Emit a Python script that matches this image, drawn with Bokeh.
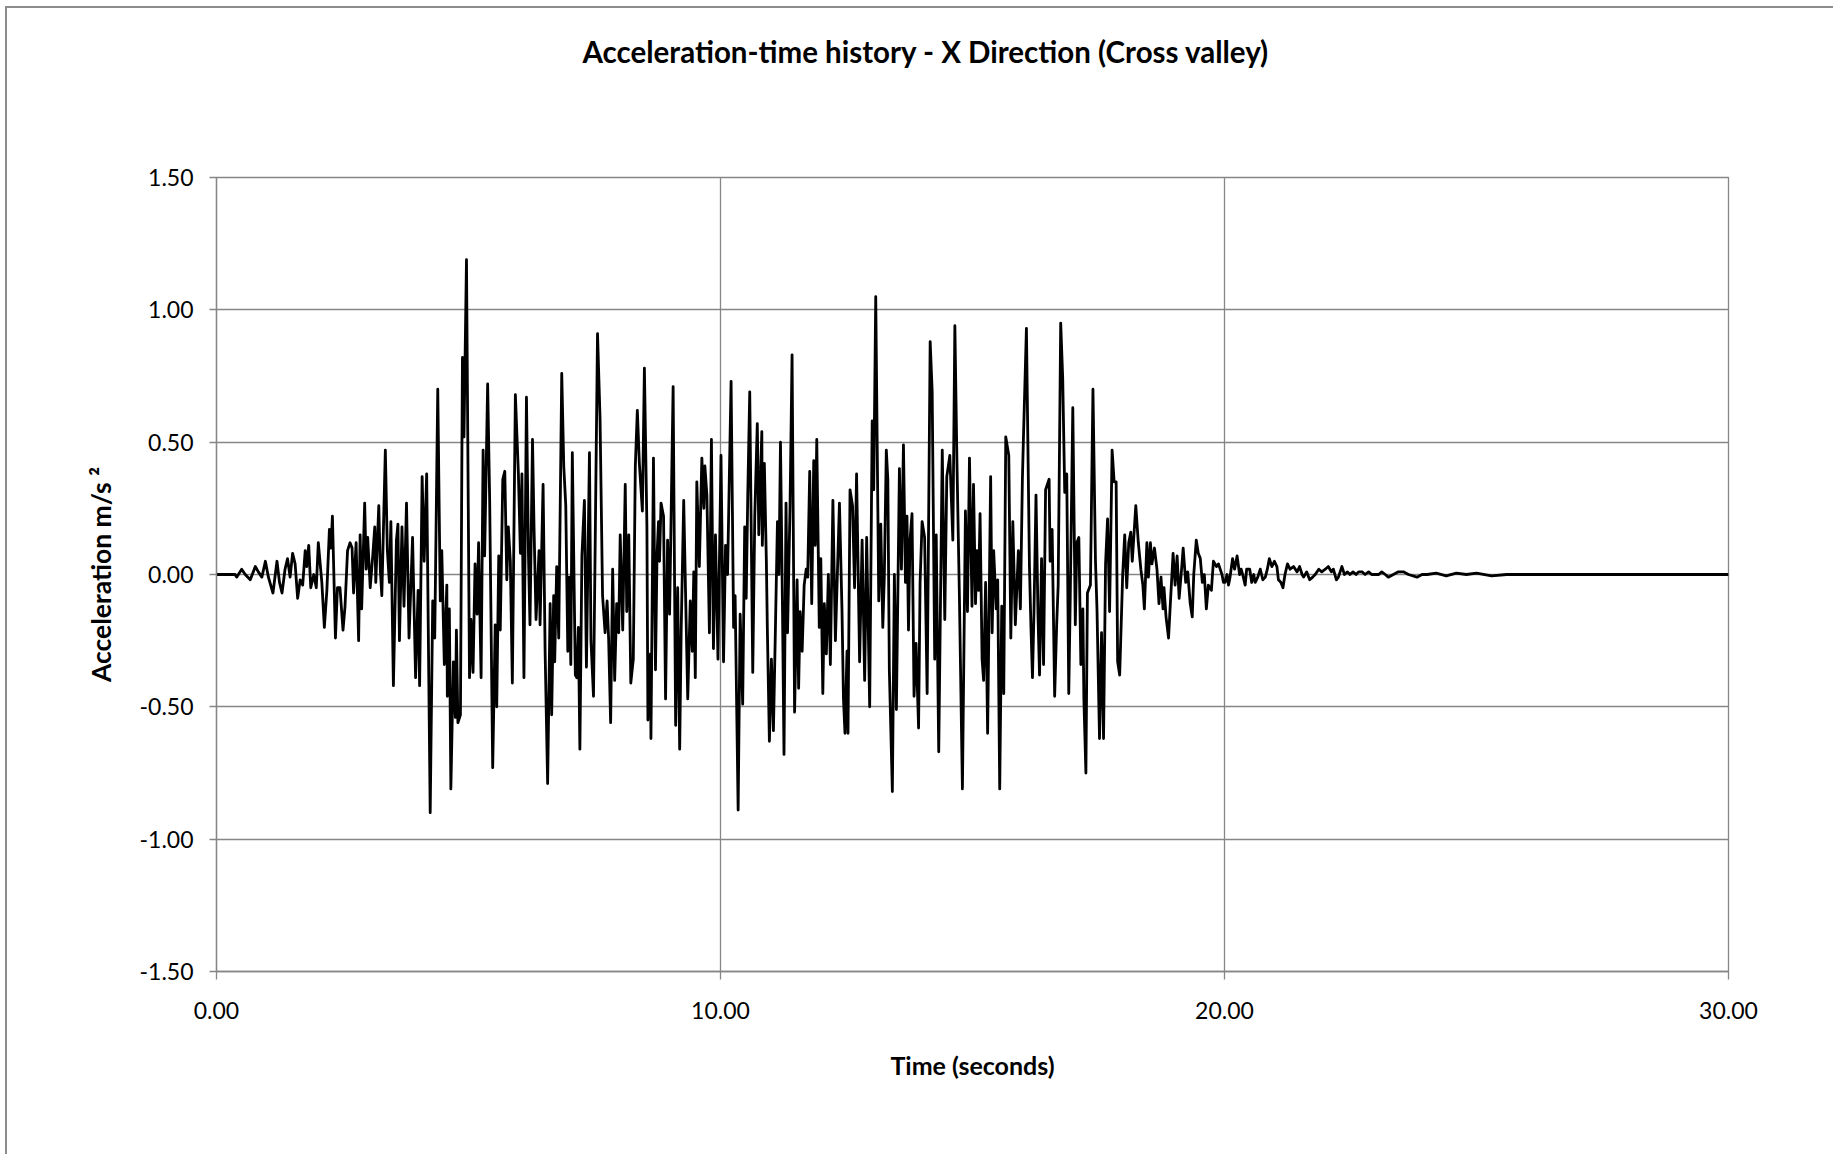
from bokeh.plotting import figure
from bokeh.models import ColumnDataSource, FixedTicker, NumeralTickFormatter, Title, Range1d
from bokeh.embed import file_html
from bokeh.resources import INLINE

# ---- data (time in s, acceleration in m/s²) ----
times = [
    0.00, 0.37, 0.40, 0.50, 0.57, 0.67, 0.77, 0.83, 0.90, 0.97, 1.03, 1.12, 1.20, 1.25, 1.30, 1.36,
    1.41, 1.46, 1.51, 1.56, 1.61, 1.66, 1.71, 1.76, 1.79, 1.83, 1.87, 1.93, 1.98, 2.02, 2.09, 2.14,
    2.19, 2.24, 2.27, 2.30, 2.36, 2.40, 2.45, 2.51, 2.55, 2.60, 2.65, 2.69, 2.72, 2.77, 2.82, 2.85,
    2.88, 2.94,
    2.97, 3.00, 3.05, 3.10, 3.14, 3.16, 3.22, 3.25, 3.28, 3.35, 3.39, 3.43, 3.46, 3.51, 3.57, 3.60,
    3.63, 3.68, 3.72, 3.77, 3.82, 3.89, 3.95, 4.00, 4.03, 4.08, 4.12, 4.17, 4.24, 4.29, 4.33, 4.39,
    4.44, 4.47, 4.52, 4.57, 4.58, 4.62, 4.65, 4.70, 4.74, 4.76, 4.79, 4.84, 4.88, 4.91, 4.96, 5.02,
    5.05, 5.09, 5.13, 5.17, 5.20, 5.25, 5.29, 5.32, 5.38, 5.42, 5.48, 5.53, 5.56, 5.60, 5.63, 5.68,
    5.72, 5.76, 5.79, 5.83, 5.87, 5.93,
    5.99, 6.03, 6.06, 6.10, 6.15, 6.19, 6.22, 6.27, 6.30, 6.34, 6.40, 6.42, 6.48, 6.52, 6.57, 6.62,
    6.65, 6.69, 6.71, 6.75, 6.79, 6.85, 6.89, 6.93, 6.97, 7.00, 7.03, 7.06, 7.12, 7.15, 7.18, 7.21,
    7.25, 7.30, 7.34, 7.40, 7.43, 7.48, 7.56, 7.61, 7.66, 7.71, 7.75, 7.78, 7.82, 7.86, 7.90, 7.94,
    7.98, 8.01, 8.06, 8.11, 8.14, 8.18, 8.22, 8.27, 8.31, 8.35, 8.39, 8.45, 8.49, 8.54, 8.56, 8.61,
    8.62, 8.67, 8.71, 8.74, 8.77, 8.79, 8.82, 8.87, 8.91, 8.95, 8.99,
    9.06, 9.11, 9.15, 9.19, 9.22, 9.27, 9.31, 9.35, 9.40, 9.44, 9.47, 9.50, 9.53, 9.58, 9.63, 9.67,
    9.69, 9.73, 9.78, 9.82, 9.86, 9.90, 9.95, 10.01, 10.06, 10.10, 10.14, 10.21, 10.26, 10.29, 10.35,
    10.39, 10.44, 10.48, 10.51, 10.54, 10.58, 10.64, 10.68, 10.73, 10.76, 10.82, 10.83, 10.87, 10.91,
    10.93, 10.97, 11.01, 11.05, 11.09, 11.13, 11.16, 11.19, 11.23, 11.26, 11.30, 11.33, 11.38, 11.42,
    11.47, 11.52, 11.55, 11.58, 11.62, 11.66, 11.70, 11.73, 11.77, 11.81, 11.85, 11.88, 11.91,
    11.96, 11.99, 12.03, 12.06, 12.10, 12.14, 12.18, 12.23, 12.28, 12.36, 12.41, 12.44, 12.47, 12.51,
    12.53, 12.57, 12.62, 12.66, 12.70, 12.76, 12.81, 12.86, 12.90, 12.96, 13.01, 13.04, 13.08, 13.14,
    13.18, 13.22, 13.25, 13.29, 13.32, 13.35, 13.41, 13.45, 13.49, 13.55, 13.59, 13.63, 13.67, 13.70,
    13.73, 13.76, 13.80, 13.84, 13.88, 13.93, 13.96, 14.00, 14.05, 14.10, 14.16, 14.20, 14.25, 14.28,
    14.33, 14.40, 14.45, 14.49, 14.55, 14.61, 14.65, 14.69, 14.74, 14.80, 14.86, 14.90, 14.94,
    14.99, 15.02, 15.06, 15.09, 15.12, 15.15, 15.19, 15.22, 15.26, 15.30, 15.36, 15.39, 15.42, 15.47,
    15.50, 15.54, 15.58, 15.62, 15.66, 15.72, 15.76, 15.80, 15.85, 15.91, 15.95, 15.99, 16.01, 16.07,
    16.13, 16.16, 16.19, 16.22, 16.26, 16.30, 16.33, 16.37, 16.41, 16.45, 16.52, 16.54, 16.58, 16.63,
    16.67, 16.70, 16.75, 16.79, 16.83, 16.87, 16.91, 16.94, 16.99, 17.04, 17.07, 17.11, 17.15, 17.19,
    17.21, 17.25, 17.28, 17.34, 17.39, 17.44, 17.47, 17.52, 17.56, 17.60, 17.64, 17.68, 17.72, 17.77,
    17.81, 17.85, 17.88, 17.92,
    17.98, 18.02, 18.06, 18.10, 18.14, 18.17, 18.24, 18.29, 18.34, 18.38, 18.41, 18.46, 18.49, 18.53,
    18.56, 18.61, 18.66, 18.70, 18.74, 18.78, 18.80, 18.84, 18.89, 18.92, 18.98, 19.02, 19.06, 19.10,
    19.14, 19.18, 19.23, 19.27, 19.32, 19.36, 19.39, 19.44, 19.48, 19.52, 19.56, 19.60, 19.64, 19.68,
    19.74, 19.78, 19.84, 19.88, 19.95, 19.98, 20.01, 20.05, 20.08, 20.11, 20.16, 20.20, 20.25, 20.30,
    20.33, 20.36, 20.41, 20.44, 20.50, 20.54, 20.58, 20.61, 20.66, 20.71, 20.76, 20.81, 20.85, 20.89,
    20.94, 20.99, 21.04, 21.07, 21.12, 21.16, 21.20, 21.25, 21.30, 21.37, 21.44, 21.49, 21.54, 21.57,
    21.63, 21.69, 21.75, 21.80, 21.87, 21.93, 22.00, 22.06, 22.12, 22.16, 22.22, 22.26, 22.33, 22.38,
    22.44, 22.49, 22.55, 22.61, 22.66, 22.73, 22.79, 22.86, 22.92, 22.99, 23.06, 23.12, 23.19, 23.25,
    23.35, 23.45, 23.55, 23.65, 23.82, 23.92, 24.02, 24.20, 24.40, 24.60, 24.80, 25.00, 25.30, 25.60,
    26.00, 30.00,
]

accel = [
    0.00, 0.00, -0.01, 0.02, 0.00, -0.02, 0.03, 0.01, -0.01, 0.05, -0.01, -0.07, 0.05, -0.03, -0.07, 0.02,
    0.06, -0.01, 0.08, 0.04, -0.09, -0.02, -0.04, 0.09, 0.03, 0.11, -0.05, 0.00, -0.05, 0.12, -0.03, -0.20,
    -0.06, 0.17, 0.10, 0.22, -0.24, -0.05, -0.05, -0.21, -0.12, 0.09, 0.12, 0.10, -0.07, 0.12, -0.25, 0.15,
    -0.13, 0.27,
    0.02, 0.14, -0.05, 0.07, 0.18, -0.03, 0.26, 0.02, -0.08, 0.47, 0.09, -0.03, 0.20, -0.42, 0.13, 0.19,
    -0.25, 0.18, -0.12, 0.27, -0.24, 0.14, -0.39, -0.06, -0.42, 0.37, 0.05, 0.38, -0.90, -0.10, -0.24, 0.70,
    -0.10, 0.09, -0.34, -0.04, -0.46, -0.13, -0.81, -0.33, -0.54, -0.21, -0.56, -0.53, 0.82, 0.52, 1.19, -0.39,
    -0.17, -0.37, 0.04, -0.15, 0.12, -0.39, 0.47, 0.07, 0.72, 0.28, -0.73, -0.19, -0.50, 0.07, -0.21, 0.36,
    0.39, -0.02, 0.18, 0.05, -0.41, 0.68,
    0.38, 0.08, 0.38, -0.39, 0.67, 0.07, -0.19, 0.51, 0.18, -0.17, 0.09, -0.19, 0.34, -0.29, -0.79, -0.11,
    -0.53, -0.08, -0.33, 0.03, -0.24, 0.76, 0.41, 0.26, -0.29, -0.01, -0.34, 0.46, -0.38, -0.39, -0.20, -0.66,
    0.07, 0.28, -0.35, 0.46, -0.25, -0.46, 0.91, 0.59, -0.08, -0.22, -0.10, -0.24, -0.56, 0.02, -0.40, -0.11,
    -0.22, 0.15, -0.21, 0.34, -0.14, 0.15, -0.41, -0.32, 0.41, 0.62, 0.42, 0.24, 0.78, 0.18, -0.55, -0.30,
    -0.62, 0.44, -0.36, 0.07, 0.20, 0.05, 0.27, 0.22, -0.47, 0.13, -0.15,
    0.71, -0.57, -0.05, -0.66, -0.21, 0.28, -0.10, -0.47, -0.10, -0.29, 0.01, -0.39, 0.35, 0.03, 0.44, 0.25,
    0.41, 0.30, -0.22, 0.51, -0.28, 0.15, -0.32, 0.45, -0.33, 0.11, 0.00, 0.73, -0.20, -0.08, -0.89,
    -0.15, -0.49, 0.18, -0.09, 0.29, 0.69, -0.37, 0.22, 0.57, 0.15, 0.54, 0.11, 0.42, 0.05,
    -0.21, -0.63, -0.32, -0.59, -0.20, 0.20, 0.00, 0.50, -0.13, -0.68, 0.27, -0.22, 0.26, 0.83,
    -0.52, -0.02, -0.43, -0.14, -0.29, -0.04, 0.02, -0.01, 0.39, -0.11, 0.43, 0.11, 0.51,
    -0.20, 0.06, -0.45, -0.11, -0.30, 0.00, -0.34, 0.28, -0.25, 0.27, -0.13, -0.47, -0.60, -0.29,
    -0.60, 0.32, 0.26, -0.05, 0.38, -0.33, 0.13, -0.40, 0.14, -0.50, 0.58, 0.32, 1.05, -0.10,
    0.19, -0.20, -0.01, 0.47, 0.36, -0.36, -0.82, 0.00, -0.51, 0.40, 0.02, 0.49, -0.03, 0.22,
    -0.21, 0.13, 0.23, -0.46, -0.26, -0.58, -0.03, 0.20, 0.14, -0.45, 0.88, 0.69, -0.32, 0.15,
    -0.67, 0.47, -0.17, 0.37, 0.45, 0.13, 0.94, 0.44, -0.08, -0.81, 0.24, -0.14, 0.44,
    -0.12, 0.34, -0.11, 0.09, -0.06, 0.23, -0.32, -0.40, -0.03, -0.60, 0.37, -0.22, 0.09, -0.13,
    -0.02, -0.81, -0.12, -0.45, 0.52, 0.45, -0.24, 0.20, -0.19, 0.09, -0.13, 0.36, 0.51, 0.93,
    0.03, -0.20, -0.39, -0.14, 0.30, -0.16, -0.38, 0.06, -0.34, 0.32, 0.36, 0.05, 0.17, -0.46,
    -0.19, -0.04, 0.95, 0.74, 0.31, 0.38, -0.45, -0.08, 0.63, -0.19, 0.12, 0.14, -0.34, -0.13,
    -0.47, -0.75, -0.07, -0.04, 0.70, 0.05, -0.13, -0.62, -0.22, -0.62, 0.04, 0.21, -0.14, 0.47,
    0.35, 0.35, -0.33, -0.38,
    0.00, 0.15, -0.05, 0.12, 0.16, 0.05, 0.26, 0.12, 0.02, -0.04, -0.13, 0.12, -0.01, 0.12,
    0.04, 0.10, 0.02, -0.11, -0.01, -0.13, -0.05, -0.16, -0.24, -0.13, 0.08, -0.04, 0.07, -0.09,
    0.00, 0.10, -0.03, 0.01, -0.11, -0.16, 0.00, 0.13, 0.08, 0.06, -0.03, 0.00, -0.13, -0.04,
    -0.06, 0.05, 0.03, 0.04, 0.00, -0.03, -0.03, 0.00, -0.04, -0.01, 0.06, 0.02, 0.07, 0.00,
    0.02, 0.00, -0.04, 0.02, 0.02, -0.03, 0.00, -0.03, -0.01, 0.02, -0.02, -0.01, 0.02, 0.06,
    0.03, 0.05, 0.03, -0.02, -0.03, -0.05, 0.00, 0.04, 0.02, 0.03, 0.01, 0.03, 0.00, -0.01,
    0.01, -0.02, -0.01, 0.00, 0.02, 0.01, 0.02, 0.03, 0.01, 0.02, -0.02, -0.01, 0.03, 0.00,
    0.01, 0.00, 0.01, 0.00, 0.01, 0.01, 0.00, 0.01, 0.00, 0.00, 0.00, 0.01, 0.00, -0.01,
    0.00, 0.01, 0.01, 0.00, -0.01, 0.00, 0.00, 0.005, -0.005, 0.005, 0.00, 0.005, -0.005, 0.00,
    0.00, 0.00,
]

x_ticks = [0, 10, 20, 30]
y_ticks = [-1.5, -1.0, -0.5, 0.0, 0.5, 1.0, 1.5]

title_text = "Acceleration-time history - X Direction (Cross valley)"
x_label = "Time (seconds)"
y_label = "Acceleration m/s \u00b2"

GRID = "#868686"
FONT = "Lato"

n = min(len(times), len(accel))
src = ColumnDataSource(data=dict(t=times[:n], a=accel[:n]))

p = figure(
    width=1828, height=1148,
    x_range=Range1d(0, 30), y_range=Range1d(-1.5, 1.5),
    output_backend="svg", toolbar_location=None,
    min_border_left=209, min_border_right=107,
    min_border_top=169, min_border_bottom=185,
    background_fill_color="white", border_fill_color="white",
)
p.styles = {
    "margin-left": "5px", "margin-top": "6px",
    "border-left": "2px solid #8c8c8c", "border-top": "2px solid #8c8c8c",
}

# invisible spacer next to the frame, pushing the real title up
p.add_layout(Title(text=" ", standoff=95, text_font=FONT, text_font_size="10px",
                   text_color="white"), "above")
p.add_layout(Title(text=title_text, align="left", offset=366, standoff=0,
                   vertical_align="bottom",
                   text_font=FONT, text_font_size="29.5px", text_font_style="bold",
                   text_color="black"), "above")

p.outline_line_color = GRID
p.outline_line_width = 1.3

for g, tk in ((p.xgrid, x_ticks), (p.ygrid, y_ticks)):
    g.ticker = FixedTicker(ticks=tk)
    g.grid_line_color = GRID
    g.grid_line_width = 1.3

for ax, tk, out in ((p.xaxis, x_ticks, 8), (p.yaxis, y_ticks, 7)):
    ax.ticker = FixedTicker(ticks=tk)
    ax.formatter = NumeralTickFormatter(format="0.00")
    ax.axis_line_color = GRID
    ax.axis_line_width = 1.3
    ax.major_tick_line_color = GRID
    ax.major_tick_line_width = 1.3
    ax.major_tick_out = out
    ax.major_tick_in = 0
    ax.minor_tick_out = 0
    ax.minor_tick_in = 0
    ax.major_label_text_font = FONT
    ax.major_label_text_font_size = "23px"
    ax.major_label_text_color = "black"
    ax.axis_label_text_font = FONT
    ax.axis_label_text_font_style = "bold"
    ax.axis_label_text_color = "black"

p.xaxis.axis_label = x_label
p.yaxis.axis_label = y_label
p.xaxis.axis_label_text_font_size = "25px"
p.yaxis.axis_label_text_font_size = "26.5px"
p.xaxis.major_label_standoff = 22
p.xaxis.axis_label_standoff = 28
p.yaxis.major_label_standoff = 16
p.yaxis.axis_label_standoff = 20

p.line("t", "a", source=src, line_color="black", line_width=2.8, line_join="round")

open("out.html", "w").write(file_html(p, INLINE))
